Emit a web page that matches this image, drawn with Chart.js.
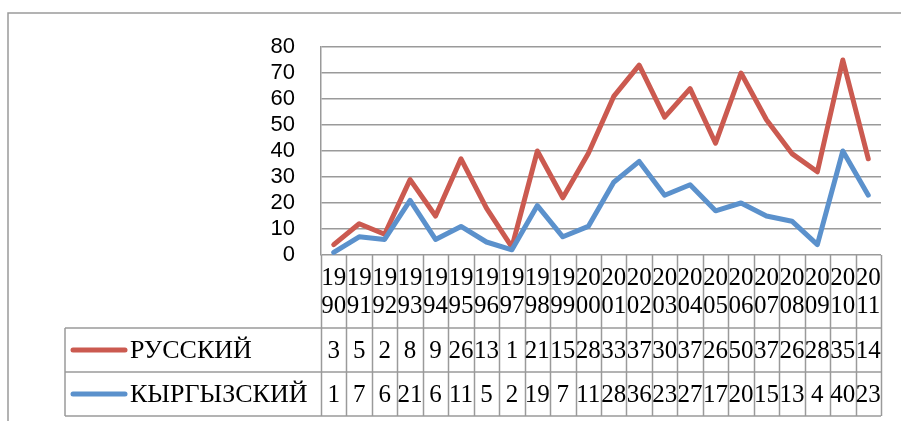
<!DOCTYPE html>
<html>
<head>
<meta charset="utf-8">
<script src="https://cdn.jsdelivr.net/npm/chart.js@4/dist/chart.umd.min.js"></script>
<style>
  html, body { margin: 0; padding: 0; background: #fff; }
  canvas { display: block; }
</style>
</head>
<body>
<canvas id="chart" width="901" height="421"></canvas>
<script>
const years = ["1990","1991","1992","1993","1994","1995","1996","1997","1998","1999","2000",
  "2001","2002","2003","2004","2005","2006","2007","2008","2009","2010","2011"];
const russian = [3,5,2,8,9,26,13,1,21,15,28,33,37,30,37,26,50,37,26,28,35,14];
const kyrgyz = [1,7,6,21,6,11,5,2,19,7,11,28,36,23,27,17,20,15,13,4,40,23];
const yTicks = [0,10,20,30,40,50,60,70,80];

const RED = "#CB5A50";
const BLUE = "#5B91CC";
const GRID = "#9a9a9a";
const SERIF = "'Liberation Serif', 'Times New Roman', serif";

// table rows in the order they show up under the chart
const tableRows = [
  { label: "РУССКИЙ", values: russian, color: RED },
  { label: "КЫРГЫЗСКИЙ", values: kyrgyz, color: BLUE },
];

const ROW_H = 44;
const LEGEND_LEFT = 65;

const dataTable = {
  id: "dataTable",
  beforeDraw(chart) {
    const ctx = chart.ctx;
    ctx.save();
    ctx.strokeStyle = GRID;
    ctx.lineWidth = 1.5;
    ctx.beginPath();
    ctx.moveTo(8, 421);
    ctx.lineTo(8, 13);
    ctx.lineTo(901, 13);
    ctx.stroke();
    ctx.restore();
  },
  afterDraw(chart) {
    const ctx = chart.ctx;
    const x = chart.scales.x;
    const step = (x.right - x.left) / years.length;
    const headTop = chart.chartArea.bottom;
    const headBottom = x.bottom;
    const tableBottom = headBottom + ROW_H * tableRows.length;

    ctx.save();
    ctx.strokeStyle = GRID;
    ctx.lineWidth = 1.5;
    ctx.beginPath();
    for (let i = 0; i <= years.length; i++) {
      const px = Math.round(x.left + i * step) + 0.5;
      ctx.moveTo(px, headTop);
      ctx.lineTo(px, tableBottom);
    }
    ctx.moveTo(LEGEND_LEFT, headBottom);
    ctx.lineTo(LEGEND_LEFT, tableBottom);
    for (let r = 0; r <= tableRows.length; r++) {
      const py = headBottom + r * ROW_H;
      ctx.moveTo(LEGEND_LEFT, py);
      ctx.lineTo(x.right, py);
    }
    ctx.stroke();

    ctx.fillStyle = "#000";
    ctx.textBaseline = "middle";
    tableRows.forEach((row, r) => {
      const cy = headBottom + r * ROW_H + ROW_H / 2;
      ctx.strokeStyle = row.color;
      ctx.lineWidth = 5;
      ctx.lineCap = "round";
      ctx.beginPath();
      ctx.moveTo(73, cy);
      ctx.lineTo(125, cy);
      ctx.stroke();
      ctx.font = "26px " + SERIF;
      ctx.textAlign = "left";
      ctx.fillText(row.label, 130, cy + 1);
      ctx.font = "25px " + SERIF;
      ctx.textAlign = "center";
      row.values.forEach((v, i) => {
        ctx.fillText(String(v), x.getPixelForValue(i), cy + 1);
      });
    });
    ctx.restore();
  },
};

new Chart(document.getElementById("chart"), {
  type: "line",
  data: {
    labels: years.map(y => [y.slice(0, 2), y.slice(2)]),
    datasets: [
      {
        label: "КЫРГЫЗСКИЙ",
        data: kyrgyz,
        borderColor: BLUE,
        borderWidth: 5,
        pointRadius: 0,
        tension: 0,
        borderJoinStyle: "round",
        borderCapStyle: "round",
      },
      {
        label: "РУССКИЙ",
        data: russian,
        borderColor: RED,
        borderWidth: 5,
        pointRadius: 0,
        tension: 0,
        borderJoinStyle: "round",
        borderCapStyle: "round",
      },
    ],
  },
  options: {
    responsive: false,
    animation: false,
    devicePixelRatio: 1,
    layout: { padding: { top: 47, right: 20, bottom: 93, left: 0 } },
    plugins: { legend: { display: false }, tooltip: { enabled: false } },
    scales: {
      x: {
        offset: true,
        grid: { display: false, drawTicks: false },
        border: { display: false },
        ticks: {
          autoSkip: false,
          maxRotation: 0,
          minRotation: 0,
          padding: 9,
          color: "#000",
          font: { family: SERIF, size: 25, lineHeight: 1.12 },
        },
        afterFit(scale) { scale.height = 73; },
      },
      y: {
        stacked: true,
        min: 0,
        max: 80,
        afterBuildTicks(scale) { scale.ticks = yTicks.map(v => ({ value: v })); },
        grid: { color: GRID, lineWidth: 1.5, drawTicks: false },
        border: { color: GRID, width: 1.5 },
        ticks: {
          autoSkip: false,
          padding: 26,
          color: "#000",
          font: { family: "'Liberation Sans', Arial, sans-serif", size: 22 },
        },
        afterFit(scale) { scale.width = 321; },
      },
    },
  },
  plugins: [dataTable],
});
</script>
</body>
</html>
